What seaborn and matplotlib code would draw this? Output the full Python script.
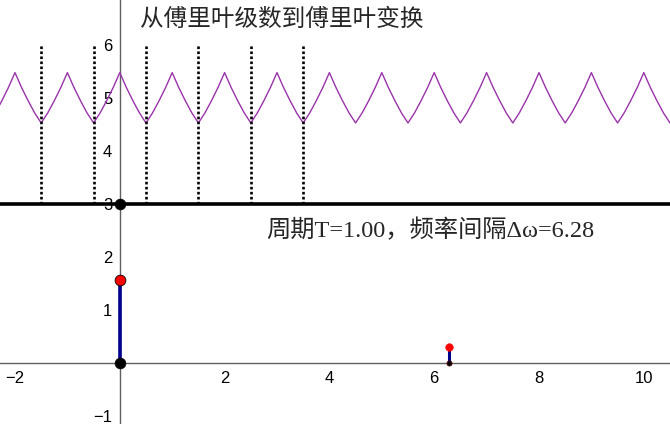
import numpy as np
import pandas as pd
import seaborn as sns
import matplotlib
matplotlib.use("Agg")
import matplotlib.pyplot as plt

sns.set_style("white")
plt.rcParams['font.family'] = ['Liberation Sans', 'DejaVu Sans']

# one period of the purple wave (offset within period, value)
wave_offset = [0.0, 0.125, 0.25, 0.375, 0.5, 0.625, 0.75, 0.875, 1.0]
wave_value = [5.48, 5.20, 4.95, 4.72, 4.53, 4.72, 4.95, 5.20, 5.48]
wave_periods = list(range(-3, 11))

# dotted sample lines
dotted_x = [-1.5, -0.5, 0.5, 1.5, 2.5, 3.5]
dotted_bottom = 3.0
dotted_top = 6.0

# baseline at y=3
base_y = 3.0

# spectrum stems
stem_x = [0.0, 6.28]
stem_h = [1.57, 0.31]

# tick labels
xtick_labels = [-2, 2, 4, 6, 8, 10]
ytick_labels = [-1, 1, 2, 3, 4, 5, 6]

title_txt = "从傅里叶级数到傅里叶变换"
info_txt = "周期T=1.00，频率间隔Δω=6.28"

# build wave table
rows = []
for p in wave_periods:
    for o, v in zip(wave_offset, wave_value):
        rows.append((p + o, v))
wave = pd.DataFrame(rows, columns=['x', 'y']).drop_duplicates('x')

fig = plt.figure(figsize=(6.7, 4.24), dpi=100)
ax = fig.add_axes([0, 0, 1, 1])
ax.set_xlim(-2.286, 10.476)
ax.set_ylim(-1.15, 6.85)

# axes through origin
for s in ['top', 'right']:
    ax.spines[s].set_visible(False)
ax.spines['left'].set_position(('data', 0))
ax.spines['bottom'].set_position(('data', 0))
for s in ['left', 'bottom']:
    ax.spines[s].set_color('#606060')
    ax.spines[s].set_linewidth(1.0)
    ax.spines[s].set_zorder(1)

xt = np.arange(-2, 10.51, 0.5)
ax.set_xticks(xt)
ax.set_xticklabels([("\u2212%d" % -v if v < 0 else "%d" % v) if (v in xtick_labels) else "" for v in xt])
yt = np.arange(-1, 6.51, 0.5)
ax.set_yticks(yt)
ax.set_yticklabels([("\u2212%d" % -v if v < 0 else "%d" % v) if (v in ytick_labels) else "" for v in yt])
ax.tick_params(direction='inout', length=8, width=1, color='#606060',
               labelsize=12, labelcolor='black', pad=1.5)
ax.grid(False)

# purple wave
sns.lineplot(data=wave, x='x', y='y', color='#9933aa', linewidth=1.0, ax=ax,
             estimator=None, sort=True, zorder=3)

# dotted vertical lines
ax.vlines(dotted_x, dotted_bottom, dotted_top, colors='black', linewidth=1.9,
          linestyles=(0, (1, 0.9)), zorder=4)

# thick baseline
ax.axhline(base_y, color='black', linewidth=2.6, zorder=5)

# stems
ax.vlines(stem_x[0], 0, stem_h[0], colors='#00008b', linewidth=2.6, zorder=6)
ax.vlines(stem_x[1], 0, stem_h[1], colors='#00008b', linewidth=2.2, zorder=6)

# points
big_pts = pd.DataFrame({'x': [0.0, 0.0], 'y': [base_y, 0.0]})
sns.scatterplot(data=big_pts, x='x', y='y', color='black', s=60, edgecolor='black',
                linewidth=0.5, ax=ax, zorder=7)
sns.scatterplot(x=[stem_x[0]], y=[stem_h[0]], color='red', s=60, edgecolor='black',
                linewidth=0.6, ax=ax, zorder=7)
sns.scatterplot(x=[stem_x[1]], y=[0.0], color='black', s=14, edgecolor='#600000',
                linewidth=0.5, ax=ax, zorder=7)
sns.scatterplot(x=[stem_x[1]], y=[stem_h[1]], color='red', s=30, edgecolor='red',
                linewidth=0.4, ax=ax, zorder=7)
ax.set_xlabel('')
ax.set_ylabel('')

# texts
ax.text(0.38, 6.49, title_txt, fontsize=17, va='center', ha='left',
        family=['Noto Sans CJK SC', 'DejaVu Sans'])
ax.text(2.8, 2.51, info_txt, fontsize=17.5, va='center', ha='left',
        family=['Liberation Serif', 'Noto Sans CJK SC', 'DejaVu Sans'])

fig.savefig('out.png', dpi=100)
